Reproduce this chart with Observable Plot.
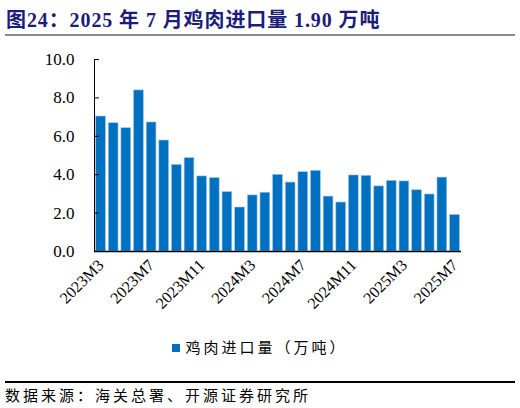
<!DOCTYPE HTML>
<html lang="zh-CN">
  <head>
    <meta charset="UTF-8">
    <title>鸡肉进口量</title>
    <style>
      body { margin: 0; background: #fff; }
      #wrap { position: relative; width: 520px; height: 408px; overflow: hidden; }
      .title { position: absolute; left: 6px; top: 4px; font: bold 20px "Liberation Serif", "Noto Sans CJK SC", serif; letter-spacing: 0.9px; color: #1c1c7a; white-space: nowrap; }
      .rule-top { position: absolute; left: 5px; top: 34px; width: 510px; height: 2px; background: #8a8a8a; }
      #chart { position: absolute; left: 0; top: 40px; }
      .legend { position: absolute; left: 0; top: 336px; width: 520px; text-align: center; font: 15px "Noto Sans CJK SC", sans-serif; letter-spacing: 3px; color: #000; }
      .legend .swatch { display: inline-block; width: 8px; height: 8px; background: #0070C0; margin-right: 5px; vertical-align: 1px; }
      .rule-bottom { position: absolute; left: 5px; top: 381px; width: 510px; height: 1.5px; background: #000; }
      .source { position: absolute; left: 5px; top: 384px; font: 15px "Noto Sans CJK SC", sans-serif; letter-spacing: 3px; color: #000; white-space: nowrap; }
    </style>
  </head>
  <body>
    <div id="wrap">
      <div class="title">图24：2025 年 7 月鸡肉进口量 1.90 万吨</div>
      <div class="rule-top"></div>
      <div id="chart"></div>
      <div class="legend"><span class="swatch"></span>鸡肉进口量（万吨）</div>
      <div class="rule-bottom"></div>
      <div class="source">数据来源：海关总署、开源证券研究所</div>
    </div>
    <script src="https://cdn.jsdelivr.net/npm/d3@7"></script>
    <script src="https://cdn.jsdelivr.net/npm/@observablehq/plot@0.6"></script>
    <script>
      const months = [
        "2023M3", "2023M4", "2023M5", "2023M6", "2023M7", "2023M8", "2023M9", "2023M10",
        "2023M11", "2023M12", "2024M1", "2024M2", "2024M3", "2024M4", "2024M5", "2024M6",
        "2024M7", "2024M8", "2024M9", "2024M10", "2024M11", "2024M12", "2025M1", "2025M2",
        "2025M3", "2025M4", "2025M5", "2025M6", "2025M7"
      ];
      const chickenImports = [
        7.03, 6.68, 6.42, 8.39, 6.72, 5.78, 4.51, 4.86,
        3.91, 3.82, 3.09, 2.29, 2.92, 3.06, 3.99, 3.59,
        4.13, 4.20, 2.86, 2.55, 3.96, 3.94, 3.39, 3.68,
        3.65, 3.19, 2.97, 3.85, 1.90
      ];
      const xTickLabels = ["2023M3", "2023M7", "2023M11", "2024M3", "2024M7", "2024M11", "2025M3", "2025M7"];
      const yTicks = [0, 2, 4, 6, 8, 10];

      const data = months.map((month, i) => ({month, value: chickenImports[i]}));

      const W = 520, H = 290, mL = 94, mR = 59, mT = 19, mB = 79;
      const chart = Plot.plot({
        width: W,
        height: H,
        marginLeft: mL,
        marginRight: mR,
        marginTop: mT,
        marginBottom: mB,
        style: {fontFamily: '"Liberation Serif", "Times New Roman", serif', fontSize: '17px', color: '#000', background: 'transparent'},
        x: {type: 'band', domain: months, paddingInner: 0.23, paddingOuter: 0.13, round: false},
        y: {domain: [0, 10]},
        marks: [
          Plot.barY(data, {x: 'month', y: 'value', fill: '#0070C0', stroke: '#9cc4e8', strokeWidth: 0.6}),
          // inward y ticks
          Plot.ruleY(yTicks, {y: d => d, stroke: '#000', insetRight: W - mL - mR - 5}),
          Plot.ruleY([0], {stroke: '#000', strokeWidth: 1.5}),
          Plot.frame({anchor: 'left', stroke: '#000'}),
          Plot.axisY({ticks: yTicks, tickSize: 0, tickPadding: 20, tickFormat: d => d.toFixed(1), fontSize: 17, label: null}),
          Plot.axisX({ticks: xTickLabels, tickSize: 0, tickRotate: -45, tickPadding: 11, fontSize: 16, label: null})
        ]
      });
      document.getElementById('chart').append(chart);
    </script>
  </body>
</html>
